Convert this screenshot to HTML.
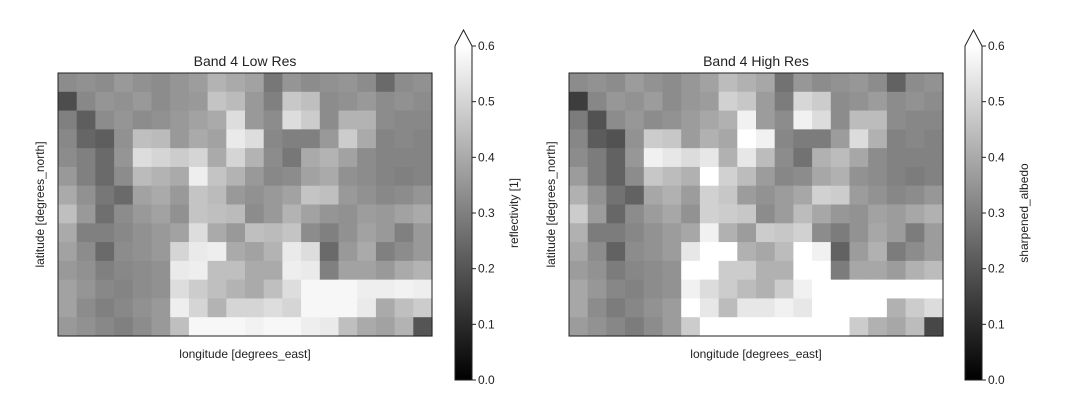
<!DOCTYPE html>
<html><head><meta charset="utf-8"><style>
body{margin:0;background:#fff;}
svg text{font-family:"Liberation Sans","DejaVu Sans",sans-serif;fill:#222;}
</style></head><body>
<svg id="fig" width="1067" height="402" viewBox="0 0 1067 402">
<g id="p0"></g>
<g id="p1"></g>
</svg>
<script>
const nCols = 20;
const nRows = 14;
const tickValues = [0.0, 0.1, 0.2, 0.3, 0.4, 0.5, 0.6];
const tickLabels = ["0.0", "0.1", "0.2", "0.3", "0.4", "0.5", "0.6"];
const gridRow0  = [0.33,0.34,0.33,0.36,0.34,0.33,0.35,0.37,0.42,0.40,0.38,0.28,0.35,0.33,0.34,0.35,0.33,0.25,0.33,0.34];
const gridRow1  = [0.18,0.32,0.35,0.34,0.36,0.33,0.35,0.36,0.46,0.44,0.36,0.30,0.47,0.45,0.33,0.34,0.36,0.33,0.34,0.33];
const gridRow2  = [0.30,0.22,0.33,0.35,0.33,0.34,0.36,0.38,0.40,0.52,0.36,0.33,0.52,0.48,0.33,0.42,0.42,0.33,0.32,0.32];
const gridRow3  = [0.32,0.24,0.22,0.34,0.45,0.44,0.36,0.40,0.38,0.55,0.52,0.32,0.30,0.30,0.36,0.48,0.40,0.31,0.32,0.31];
const gridRow4  = [0.33,0.30,0.25,0.35,0.52,0.50,0.48,0.50,0.40,0.50,0.42,0.33,0.28,0.40,0.42,0.38,0.33,0.31,0.31,0.31];
const gridRow5  = [0.36,0.30,0.25,0.33,0.44,0.42,0.40,0.56,0.46,0.42,0.36,0.32,0.33,0.38,0.40,0.34,0.33,0.31,0.30,0.31];
const gridRow6  = [0.40,0.34,0.28,0.25,0.38,0.40,0.36,0.46,0.44,0.36,0.34,0.36,0.38,0.46,0.45,0.36,0.34,0.32,0.33,0.35];
const gridRow7  = [0.45,0.36,0.26,0.33,0.36,0.38,0.34,0.46,0.45,0.44,0.33,0.36,0.42,0.38,0.35,0.34,0.37,0.36,0.38,0.40];
const gridRow8  = [0.40,0.30,0.30,0.32,0.34,0.36,0.38,0.52,0.40,0.36,0.45,0.44,0.46,0.33,0.30,0.34,0.38,0.36,0.30,0.36];
const gridRow9  = [0.38,0.33,0.25,0.33,0.34,0.36,0.50,0.55,0.56,0.40,0.38,0.42,0.55,0.52,0.25,0.36,0.40,0.30,0.33,0.36];
const gridRow10 = [0.36,0.34,0.30,0.32,0.33,0.34,0.55,0.56,0.45,0.45,0.40,0.40,0.56,0.55,0.30,0.38,0.38,0.36,0.40,0.42];
const gridRow11 = [0.38,0.35,0.32,0.31,0.33,0.34,0.52,0.48,0.45,0.42,0.40,0.45,0.52,0.58,0.58,0.58,0.56,0.56,0.57,0.56];
const gridRow12 = [0.38,0.33,0.30,0.32,0.34,0.36,0.56,0.50,0.42,0.50,0.50,0.52,0.50,0.58,0.58,0.58,0.55,0.40,0.45,0.48];
const gridRow13 = [0.36,0.34,0.32,0.30,0.33,0.36,0.45,0.58,0.58,0.58,0.57,0.58,0.58,0.56,0.55,0.45,0.40,0.38,0.42,0.20];
const grid = [gridRow0,gridRow1,gridRow2,gridRow3,gridRow4,gridRow5,gridRow6,gridRow7,gridRow8,gridRow9,gridRow10,gridRow11,gridRow12,gridRow13];

const NS = "http://www.w3.org/2000/svg";
function mk(tag, attrs, parent){const e=document.createElementNS(NS,tag);for(const k in attrs)e.setAttribute(k,attrs[k]);parent.appendChild(e);return e;}
function gray(v){let t=Math.max(0,Math.min(1,v/0.6));const c=Math.round(t*255);return `rgb(${c},${c},${c})`;}

const panels = [
 {g:"p0", x0:58, x1:432, title:"Band 4 Low Res", cbx:455, cblabel:"reflectivity [1]", contrast:1.0},
 {g:"p1", x0:569, x1:943, title:"Band 4 High Res", cbx:965, cblabel:"sharpened_albedo", contrast:1.25}
];
const y0 = 73, y1 = 336, cbTop = 46, cbBot = 380, cbW = 17;

panels.forEach((p, pi) => {
  const g = document.getElementById(p.g);
  const xScale = c => p.x0 + (p.x1 - p.x0) * c / nCols;
  const yScale = r => y0 + (y1 - y0) * r / nRows;
  for (let r = 0; r < nRows; r++) for (let c = 0; c < nCols; c++) {
    const v = 0.33 + (grid[r][c] - 0.33) * p.contrast;
    const rc = mk("rect", {x:xScale(c), y:yScale(r), width:xScale(c+1)-xScale(c)+0.6, height:yScale(r+1)-yScale(r)+0.6, fill:gray(v)}, g);
    
    
  }
  const fr = mk("rect", {x:p.x0, y:y0, width:p.x1-p.x0, height:y1-y0, fill:"none", stroke:"#222", "stroke-width":1}, g);
  
  
  const t = mk("text", {x:(p.x0+p.x1)/2, y:66, "text-anchor":"middle", "font-size":14}, g); t.textContent = p.title;
  
  
  const xl = mk("text", {x:(p.x0+p.x1)/2, y:358, "text-anchor":"middle", "font-size":12}, g); xl.textContent = "longitude [degrees_east]";
  
  
  const yl = mk("text", {x:0, y:0, "text-anchor":"middle", "font-size":12, transform:`translate(${p.x0-14},${(y0+y1)/2}) rotate(-90)`}, g); yl.textContent = "latitude [degrees_north]";
  
  
  // colorbar
  const gid = "cbg" + pi;
  const defs = mk("defs", {}, g);
  const lg = mk("linearGradient", {id:gid, x1:0, y1:1, x2:0, y2:0}, defs);
  mk("stop", {offset:0, "stop-color":"#000"}, lg);
  mk("stop", {offset:1, "stop-color":"#fff"}, lg);
  const cb = mk("rect", {x:p.cbx, y:cbTop, width:cbW, height:cbBot-cbTop, fill:`url(#${gid})`}, g);
  
  
  const cbo = mk("path", {d:`M${p.cbx},${cbBot} L${p.cbx},${cbTop} L${p.cbx+cbW/2},${cbTop-16} L${p.cbx+cbW},${cbTop} L${p.cbx+cbW},${cbBot} Z`, fill:"none", stroke:"#222", "stroke-width":1}, g);
  
  
  const cs = v => cbBot - (cbBot - cbTop) * v / 0.6;
  tickValues.forEach((v, i) => {
    mk("line", {x1:p.cbx+cbW, x2:p.cbx+cbW+4, y1:cs(v), y2:cs(v), stroke:"#222"}, g);
    const tl = mk("text", {x:p.cbx+cbW+6, y:cs(v)+4, "font-size":12}, g); tl.textContent = tickLabels[i];
    
    
  });
  const cl = mk("text", {x:0, y:0, "text-anchor":"middle", "font-size":12, transform:`translate(${p.cbx+cbW+46},${(cbTop+cbBot)/2}) rotate(-90)`}, g); cl.textContent = p.cblabel;
  
  
});
</script>
</body></html>
